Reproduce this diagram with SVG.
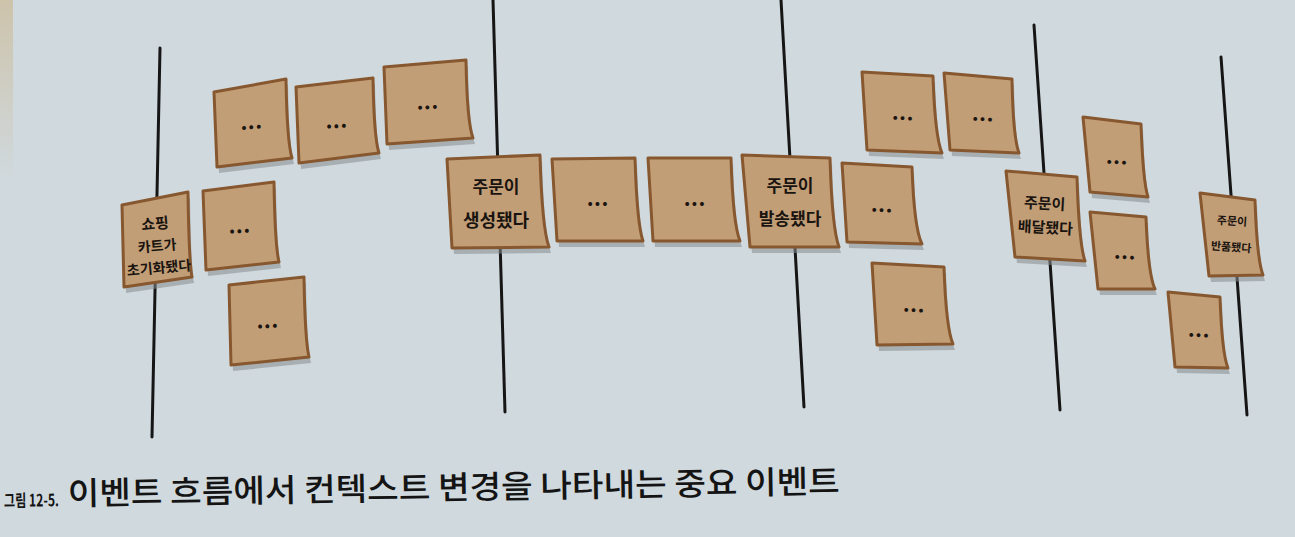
<svg xmlns="http://www.w3.org/2000/svg" xmlns:xlink="http://www.w3.org/1999/xlink" width="1295" height="537" viewBox="0 0 1295 537">
<style>
.bg{fill:#d0d9dd}
.line{stroke:#161616;stroke-width:3;fill:none;stroke-linecap:round}
.shadow{fill:#868c90;opacity:.55}
.note{fill:#c29e76;stroke:#87582f;stroke-width:3;stroke-linejoin:round}
.dots{font-family:"Noto Sans CJK KR","Noto Sans",sans-serif;font-weight:900;font-size:18px;fill:#1a1410;text-anchor:middle;letter-spacing:1px}
.hand{font-family:"Noto Sans CJK KR","Noto Sans",sans-serif;font-weight:700;fill:#1a1410;text-anchor:middle}
.cap{font-family:"Noto Sans CJK KR","Noto Sans",sans-serif;fill:#141414}
</style>
<defs>
<linearGradient id="edge" x1="0" y1="0" x2="0" y2="1">
<stop offset="0" stop-color="#cdc3ab"/>
<stop offset="1" stop-color="#cdc3ab" stop-opacity="0"/>
</linearGradient>
<path id="pA" d="M214,92 L286,79 Q287,142 292,158 L217,167 Z"/>
<path id="pB" d="M296,87 L373,78 Q374,138 379,153 L299,163 Z"/>
<path id="pC" d="M384,67 L466,60 Q467,122 473,138 L387,144 Z"/>
<path id="pCart" d="M122,205 L188,192 Q189,262 192,277 L124,287 Z"/>
<path id="pD" d="M203,191 L274,182 Q275,246 279,262 L206,270 Z"/>
<path id="pE" d="M229,285 L304,277 Q305,340 309,357 L231,365 Z"/>
<path id="pCreated" d="M447,159 L540,155 Q542,228 549,247 L452,248 Z"/>
<path id="pF" d="M552,159 L635,158 Q637,224 643,241 L557,241 Z"/>
<path id="pG" d="M648,158 L731,158 Q733,224 740,241 L653,241 Z"/>
<path id="pShipped" d="M742,155 L830,158 Q832,228 839,247 L750,247 Z"/>
<path id="pH" d="M862,72 L933,76 Q935,137 942,153 L867,150 Z"/>
<path id="pI" d="M944,73 L1012,79 Q1013,137 1019,153 L950,150 Z"/>
<path id="pJ" d="M842,163 L912,167 Q914,228 922,244 L847,242 Z"/>
<path id="pK" d="M872,263 L944,267 Q946,328 953,344 L877,345 Z"/>
<path id="pDelivered" d="M1006,171 L1077,177 Q1079,244 1085,261 L1015,257 Z"/>
<path id="pL" d="M1083,117 L1141,124 Q1143,182 1148,197 L1090,192 Z"/>
<path id="pM" d="M1090,212 L1146,217 Q1148,274 1155,289 L1098,289 Z"/>
<path id="pN" d="M1168,292 L1220,297 Q1222,354 1228,368 L1175,367 Z"/>
<path id="pReturned" d="M1200,193 L1255,200 Q1257,260 1263,275 L1209,276 Z"/>
</defs>
<rect class="bg" x="0" y="0" width="1295" height="537"/>
<rect x="0" y="0" width="13" height="180" fill="url(#edge)"/>

<g id="connectors">
<line class="line" x1="160" y1="48" x2="152" y2="437"/>
<line class="line" x1="493" y1="0" x2="505" y2="412"/>
<line class="line" x1="781" y1="0" x2="804" y2="407"/>
<line class="line" x1="1034" y1="25" x2="1060" y2="410"/>
<line class="line" x1="1221" y1="57" x2="1247" y2="415"/>
</g>

<g id="note-a"><use xlink:href="#pA" class="shadow" transform="translate(2,6)"/><use xlink:href="#pA" class="note"/><text class="dots" x="252" y="129" transform="rotate(-5 252 129)">...</text></g>
<g id="note-b"><use xlink:href="#pB" class="shadow" transform="translate(2,6)"/><use xlink:href="#pB" class="note"/><text class="dots" x="337" y="128" transform="rotate(-3 337 128)">...</text></g>
<g id="note-c"><use xlink:href="#pC" class="shadow" transform="translate(2,6)"/><use xlink:href="#pC" class="note"/><text class="dots" x="428" y="109" transform="rotate(-2 428 109)">...</text></g>
<g id="note-cart"><use xlink:href="#pCart" class="shadow" transform="translate(2,6)"/><use xlink:href="#pCart" class="note"/>
<g transform="rotate(-5 157 245)">
<text class="hand" x="157" y="229" font-size="15">쇼핑</text>
<text class="hand" x="157" y="251" font-size="14">카트가</text>
<text class="hand" x="157" y="273" font-size="14">초기화됐다</text>
</g></g>
<g id="note-d"><use xlink:href="#pD" class="shadow" transform="translate(2,6)"/><use xlink:href="#pD" class="note"/><text class="dots" x="240" y="233" transform="rotate(-3 240 233)">...</text></g>
<g id="note-e"><use xlink:href="#pE" class="shadow" transform="translate(2,6)"/><use xlink:href="#pE" class="note"/><text class="dots" x="268" y="328" transform="rotate(-3 268 328)">...</text></g>

<g id="note-created"><use xlink:href="#pCreated" class="shadow" transform="translate(2,6)"/><use xlink:href="#pCreated" class="note"/>
<text class="hand" x="496" y="193" font-size="17">주문이</text>
<text class="hand" x="496" y="227" font-size="18">생성됐다</text></g>
<g id="note-f"><use xlink:href="#pF" class="shadow" transform="translate(2,6)"/><use xlink:href="#pF" class="note"/><text class="dots" x="598" y="206">...</text></g>
<g id="note-g"><use xlink:href="#pG" class="shadow" transform="translate(2,6)"/><use xlink:href="#pG" class="note"/><text class="dots" x="695" y="206">...</text></g>
<g id="note-shipped"><use xlink:href="#pShipped" class="shadow" transform="translate(2,6)"/><use xlink:href="#pShipped" class="note"/>
<text class="hand" x="790" y="192" font-size="17">주문이</text>
<text class="hand" x="790" y="225" font-size="17">발송됐다</text></g>

<g id="note-h"><use xlink:href="#pH" class="shadow" transform="translate(2,6)"/><use xlink:href="#pH" class="note"/><text class="dots" x="903" y="120" transform="rotate(2 903 120)">...</text></g>
<g id="note-i"><use xlink:href="#pI" class="shadow" transform="translate(2,6)"/><use xlink:href="#pI" class="note"/><text class="dots" x="983" y="121" transform="rotate(2 983 121)">...</text></g>
<g id="note-j"><use xlink:href="#pJ" class="shadow" transform="translate(2,6)"/><use xlink:href="#pJ" class="note"/><text class="dots" x="882" y="212" transform="rotate(2 882 212)">...</text></g>
<g id="note-k"><use xlink:href="#pK" class="shadow" transform="translate(2,6)"/><use xlink:href="#pK" class="note"/><text class="dots" x="914" y="312" transform="rotate(2 914 312)">...</text></g>
<g id="note-delivered"><use xlink:href="#pDelivered" class="shadow" transform="translate(2,6)"/><use xlink:href="#pDelivered" class="note"/>
<g transform="rotate(3 1046 215)">
<text class="hand" x="1044" y="209" font-size="15">주문이</text>
<text class="hand" x="1046" y="233" font-size="15">배달됐다</text>
</g></g>
<g id="note-l"><use xlink:href="#pL" class="shadow" transform="translate(2,6)"/><use xlink:href="#pL" class="note"/><text class="dots" x="1117" y="164" transform="rotate(3 1117 164)">...</text></g>
<g id="note-m"><use xlink:href="#pM" class="shadow" transform="translate(2,6)"/><use xlink:href="#pM" class="note"/><text class="dots" x="1125" y="259" transform="rotate(3 1125 259)">...</text></g>
<g id="note-n"><use xlink:href="#pN" class="shadow" transform="translate(2,6)"/><use xlink:href="#pN" class="note"/><text class="dots" x="1199" y="337" transform="rotate(3 1199 337)">...</text></g>
<g id="note-returned"><use xlink:href="#pReturned" class="shadow" transform="translate(2,6)"/><use xlink:href="#pReturned" class="note"/>
<g transform="rotate(4 1232 235)">
<text class="hand" x="1231" y="225" font-size="11">주문이</text>
<text class="hand" x="1232" y="251" font-size="11">반품됐다</text>
</g></g>

<g id="caption">
<text class="cap" x="4" y="507" font-size="17" font-weight="700" textLength="55" lengthAdjust="spacingAndGlyphs" transform="rotate(-0.9 4 507)">그림 12-5.</text>
<text class="cap" x="68" y="505" font-size="32" font-weight="500" textLength="772" lengthAdjust="spacingAndGlyphs" transform="rotate(-0.9 68 505)">이벤트 흐름에서 컨텍스트 변경을 나타내는 중요 이벤트</text>
</g>
</svg>
